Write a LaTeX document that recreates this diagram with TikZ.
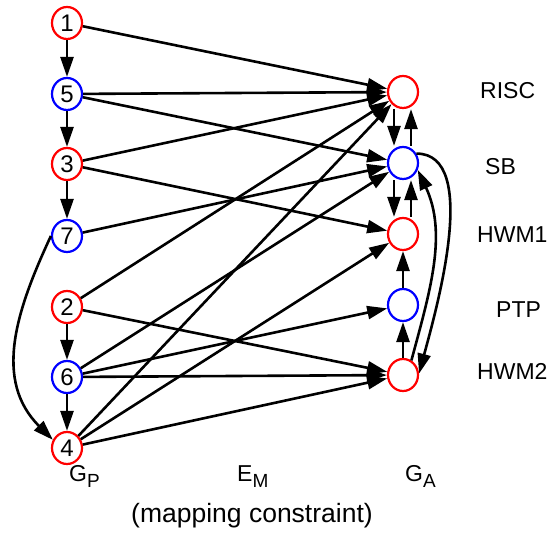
\documentclass[tikz,border=0pt]{standalone}
\usepackage{fontspec}
\setmainfont{Liberation Sans}
\usetikzlibrary{arrows.meta,shapes.geometric}

\newcommand{\lowidx}[1]{\raisebox{-6pt}{\fontsize{19}{19}\selectfont #1}}

\begin{document}
\begin{tikzpicture}[x=1pt, y=1pt, >={Triangle[length=20pt,width=13pt]},
  vtx/.style={ellipse, line width=2.2pt, minimum width=30pt, minimum height=32pt, inner sep=0pt, font=\fontsize{24}{24}\selectfont},
  rnode/.style={vtx, draw=red},
  bnode/.style={vtx, draw=blue},
  edge/.style={->, line width=2.6pt},
  lbl/.style={anchor=base west, inner sep=0pt, font=\fontsize{23}{23}\selectfont}]

\useasboundingbox (0,0) rectangle (551,534);

% Draw the task graph G_P
\def\px{67}
\node[rnode] (t1) at (\px,511) {1};
\node[bnode] (t5) at (\px,440) {5};
\node[rnode] (t3) at (\px,370) {3};
\node[bnode] (t7) at (\px,298) {7};
\node[rnode] (t2) at (\px,227) {2};
\node[bnode] (t6) at (\px,157) {6};
\node[rnode] (t4) at (\px,86) {4};

\draw[edge] (t1) -- (t5);
\draw[edge] (t5) -- (t3);
\draw[edge] (t3) -- (t7);
\draw[edge] (t2) -- (t6);
\draw[edge] (t6) -- (t4);
\draw[edge] (t7.west) to[out=245, in=135, looseness=1.05] (t4.150);

% Draw the architecture graph G_A
\def\ax{403}
\node[rnode] (risc) at (\ax,442) {};
\node[bnode] (sb) at (\ax,371) {};
\node[rnode] (hwm1) at (\ax,300) {};
\node[bnode] (ptp) at (\ax,229) {};
\node[rnode] (hwm2) at (\ax,159) {};

\node[lbl] (lrisc) at (480,435) {RISC};
\node[lbl] (lsb) at (485,359) {SB};
\node[lbl] (lhwm1) at (477,291) {HWM1};
\node[lbl] (lptp) at (496,216) {PTP};
\node[lbl] (lhwm2) at (477,154) {HWM2};

\draw[edge] ([xshift=-9pt]risc.south) -- ([xshift=-9pt]sb.north);
\draw[edge] ([xshift=8pt]sb.north) -- ([xshift=8pt]risc.south);
\draw[edge] ([xshift=-9pt]sb.south) -- ([xshift=-9pt]hwm1.north);
\draw[edge] ([xshift=8pt]hwm1.north) -- ([xshift=8pt]sb.south);
\draw[edge] (ptp) -- (hwm1);
\draw[edge] (hwm2) -- (ptp);
\draw[edge] (sb.35) to[out=0, in=75, looseness=0.75] (hwm2.5);
\draw[edge] (hwm2.60) to[out=75, in=-65, looseness=0.95] (sb.-25);

% Draw the mapping edges E_M
\draw[edge] (t1) -- (risc);
\draw[edge] (t5) -- (risc);
\draw[edge] (t5) -- (sb);
\draw[edge] (t3) -- (risc);
\draw[edge] (t3) -- (hwm1);
\draw[edge] (t7) -- (sb);
\draw[edge] (t2) -- (risc);
\draw[edge] (t2) -- (hwm2);
\draw[edge] (t6) -- (sb);
\draw[edge] (t6) -- (ptp);
\draw[edge] (t6) -- (hwm2);
\draw[edge] (t4) -- (risc);
\draw[edge] (t4) -- (hwm1);
\draw[edge] (t4) -- (hwm2);

% captions
\node[lbl] (gp) at (69,52) {G\lowidx{P}};
\node[lbl] (em) at (237,52) {E\lowidx{M}};
\node[lbl] (ga) at (405,52) {G\lowidx{A}};
\node[anchor=base, inner sep=0pt, font=\fontsize{26.5}{26.5}\selectfont] (mc) at (252,11) {(mapping constraint)};
\end{tikzpicture}
\end{document}
